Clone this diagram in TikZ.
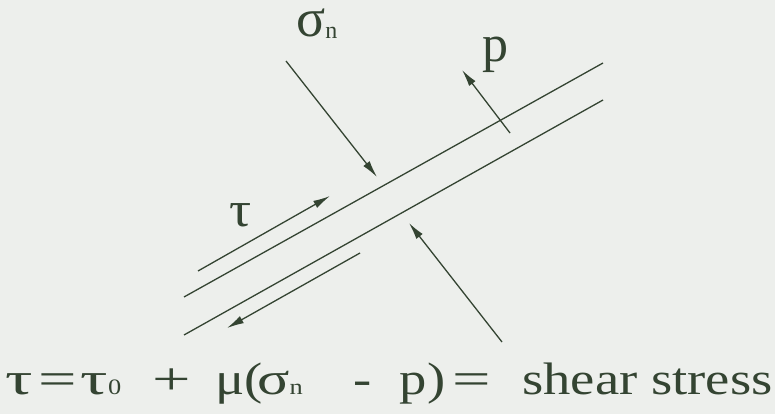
\documentclass[tikz,border=0pt]{standalone}
\usepackage{fontspec}
\usepackage{graphicx}
\setmainfont{Liberation Serif}
\usetikzlibrary{arrows.meta}
\definecolor{bg}{RGB}{237,239,236}
\definecolor{ink}{RGB}{52,68,50}
\newcommand{\tok}[2]{\makebox[#1pt][l]{#2}}
\newcommand{\smallsub}[1]{{\fontsize{22}{22}\selectfont #1}}
\newcommand{\wide}[1]{\scalebox{1.25}[1]{#1}}
\begin{document}
\begin{tikzpicture}[x=1pt,y=-1pt,
  faultline/.style={draw=ink,line width=1.3pt},
  force/.style={draw=ink,line width=1.3pt,-{Latex[length=17pt,width=8pt]}},
  lbl/.style={text=ink,inner sep=0pt,anchor=base west,text height=24pt,text depth=2pt,font=\fontsize{50}{50}\selectfont},
  eqstyle/.style={text=ink,inner sep=0pt,anchor=base west,font=\fontsize{45.5}{46}\selectfont}]
\fill[bg] (0,0) rectangle (775,414);
\useasboundingbox (0,0) rectangle (775,414);
% fault plane
\coordinate (f1a) at (184,297);
\coordinate (f1b) at (603,63);
\coordinate (f2a) at (184,335);
\coordinate (f2b) at (603,100);
\draw[faultline] (f1a) -- (f1b);
\draw[faultline] (f2a) -- (f2b);
% force arrows
\coordinate (sns) at (286,61);
\coordinate (sne) at (377,177);
\coordinate (ps) at (510,133);
\coordinate (pe) at (462,70);
\coordinate (bs) at (502,342);
\coordinate (be) at (409,223);
\coordinate (tus) at (198,271);
\coordinate (tue) at (330,196);
\coordinate (tds) at (360,253);
\coordinate (tde) at (227,328);
\draw[force] (sns) -- (sne);
\draw[force] (ps) -- (pe);
\draw[force] (bs) -- (be);
\draw[force] (tus) -- (tue);
\draw[force] (tds) -- (tde);
% labels
\node[lbl,font=\fontsize{54}{54}\selectfont] (sigmalbl) at (296,37) {σ\raisebox{-2pt}{\fontsize{24}{24}\selectfont n}};
\node[lbl,font=\fontsize{52}{52}\selectfont] (plbl) at (482,62) {p};
\node[lbl,font=\fontsize{50}{50}\selectfont] (taulbl) at (229,226) {\scalebox{1.1}[1]{τ}};
% equation
\node[eqstyle] (eqn) at (5,394) {\scalebox{1.2}[1]{\tok{28}{\wide{τ}}\tok{35}{\wide{=}}\tok{60}{\wide{τ}\smallsub{0}}\tok{52}{\wide{+}}\tok{35}{μ(}\tok{80}{\scalebox{1.1}[1]{σ}\smallsub{n}}\tok{39}{-}\tok{44}{p)}\tok{58}{\wide{=}}shear stress}};
\end{tikzpicture}
\end{document}
